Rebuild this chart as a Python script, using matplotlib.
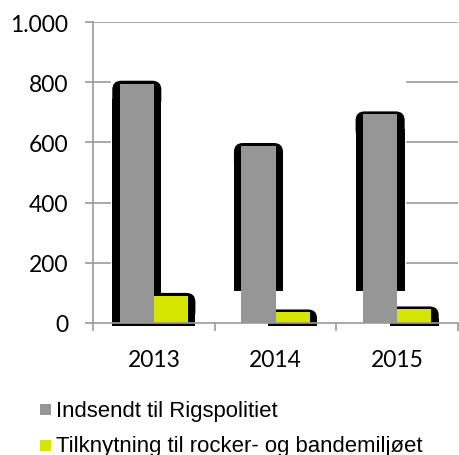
import matplotlib
matplotlib.use("Agg")
import matplotlib.pyplot as plt
from matplotlib.patches import Rectangle, FancyBboxPatch

years = ["2013", "2014", "2015"]
indsendt = [795, 588, 693]
tilknytning = [90, 35, 45]
series_labels = ["Indsendt til Rigspolitiet", "Tilknytning til rocker- og bandemiljøet"]
yticks = [0, 200, 400, 600, 800, 1000]
ytick_labels = ["0", "200", "400", "600", "800", "1.000"]
gray_shadow_cut = [None, 105, 105]

GRAY = "#969696"
GREEN = "#d4e600"
GRID = "#9a9a9a"
NUM_FONT = ["Lato", "DejaVu Sans"]
LEG_FONT = ["Liberation Sans", "DejaVu Sans"]

W, H = 459, 456
fig = plt.figure(figsize=(W / 100, H / 100), dpi=100)
ax = fig.add_axes([93 / W, 1 - 324 / H, 365 / W, 301 / H])
ax.set_xlim(-0.5, 2.5)
ax.set_ylim(0, 1000)

px_x = 3 / 365
px_y = 1000 / 301
bw = 0.28
dx = 7.5 * px_x
rs = 9 * px_x
asp = px_y / px_x


def shadow(xc, top, bottom):
    x0 = xc - bw / 2 - dx
    w = bw + 2 * dx
    cap_bottom = max(bottom, top - 25 * px_y)
    if cap_bottom > bottom:
        ax.add_patch(Rectangle((x0, bottom), w, (cap_bottom + 10 * px_y) - bottom,
                               facecolor="black", edgecolor="none", zorder=1.5, clip_on=False))
    ax.add_patch(FancyBboxPatch((x0, cap_bottom), w, top + 3 * px_y - cap_bottom,
                                boxstyle=f"round,pad=0,rounding_size={rs}",
                                mutation_aspect=asp, facecolor="black",
                                edgecolor="none", zorder=1.5, clip_on=False))
    if cap_bottom == bottom:
        ax.add_patch(Rectangle((x0, bottom), w, min(8 * px_y, top + 3 * px_y - bottom),
                               facecolor="black", edgecolor="none", zorder=1.5, clip_on=False))


x = list(range(len(years)))
for i in x:
    cut = gray_shadow_cut[i]
    shadow(i - 0.14, indsendt[i], -3 * px_y if cut is None else cut)
for i in x:
    shadow(i + 0.14, tilknytning[i], -3 * px_y)

ax.bar([i - 0.14 for i in x], indsendt, width=bw, color=GRAY, zorder=2)
ax.bar([i + 0.14 for i in x], tilknytning, width=bw, color=GREEN, zorder=2)

# gridlines
for yv in yticks[1:]:
    if yv == 1000:
        ax.axhline(yv, color=GRID, lw=1.2, zorder=0.5)
    else:
        ax.axhline(yv, xmin=0, xmax=(110 - 93) / 365, color=GRID, lw=1.2, zorder=0.5)
        ax.axhline(yv, xmin=(407 - 93) / 365, xmax=1, color=GRID, lw=1.2, zorder=0.5)

for s in ["top", "right"]:
    ax.spines[s].set_visible(False)
for s in ["left", "bottom"]:
    ax.spines[s].set_color(GRID)
    ax.spines[s].set_linewidth(1.2)
    ax.spines[s].set_zorder(2.5)

ax.set_yticks(yticks)
ax.set_yticklabels(ytick_labels, family=NUM_FONT, fontsize=16.5)
ax.tick_params(axis="y", direction="out", length=5.8, width=1.2, color=GRID, pad=12)
ax.set_xticks(x)
ax.set_xticklabels(years, family=NUM_FONT, fontsize=16.5)
ax.set_xticks([-0.5, 0.5, 1.5, 2.5], minor=True)
ax.tick_params(axis="x", which="major", length=0, pad=18.5)
ax.tick_params(axis="x", which="minor", direction="out", length=5.8, width=1.2, color=GRID)

# legend
for (lab, col, y_sq, y_base) in [(series_labels[0], GRAY, 416, 416.7),
                                  (series_labels[1], GREEN, 452, 452.5)]:
    fig.add_artist(Rectangle((40 / W, 1 - y_sq / H), 11 / W, 11 / H,
                             transform=fig.transFigure, facecolor=col, edgecolor="none"))
    fig.text(56 / W, 1 - y_base / H, lab, family=LEG_FONT, fontsize=15.9,
             va="baseline", ha="left")

fig.savefig("out.png", dpi=100)
